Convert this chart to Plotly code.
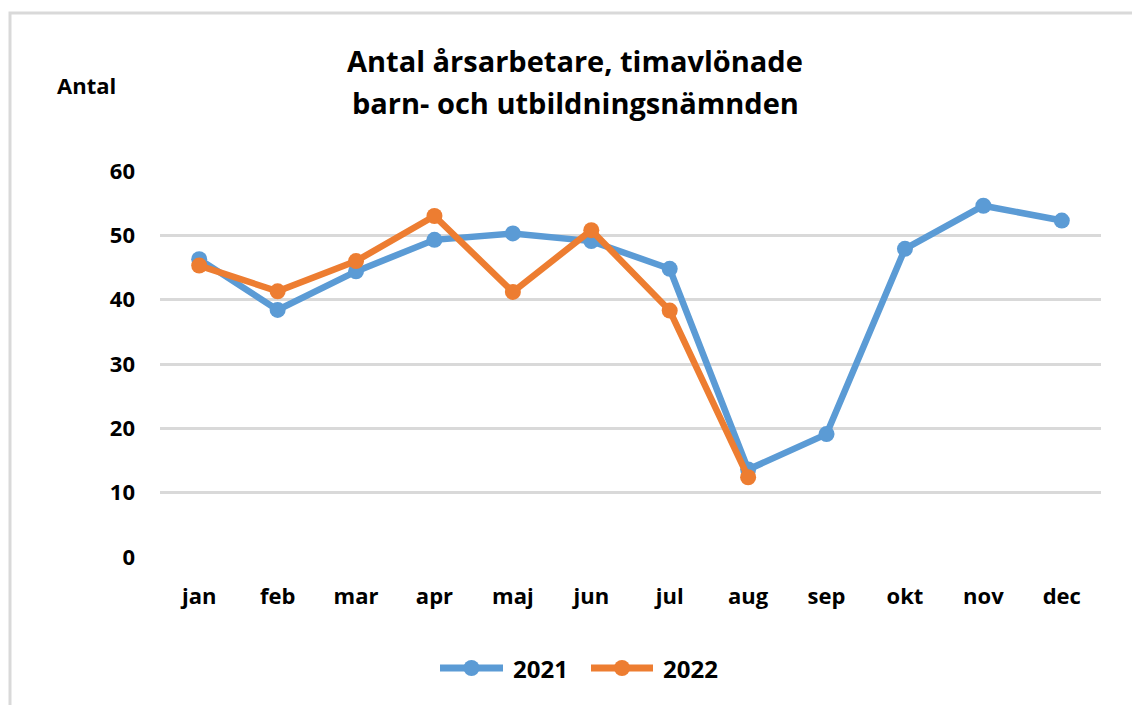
import plotly.graph_objects as go

months = ["jan", "feb", "mar", "apr", "maj", "jun", "jul", "aug", "sep", "okt", "nov", "dec"]
values_2021 = [46.3, 38.4, 44.4, 49.3, 50.3, 49.1, 44.8, 13.6, 19.1, 47.9, 54.6, 52.3]
values_2022 = [45.3, 41.3, 46.0, 53.0, 41.2, 50.8, 38.3, 12.4]
y_ticks = [0, 10, 20, 30, 40, 50, 60]
series_names = ["2021", "2022"]
colors = ["#5b9bd5", "#ed7d31"]

FONT = "'Open Sans', Lato, sans-serif"
OFF = 8  # body margin of the html page
W, H = 1140 - OFF, 705 - OFF
# plot area in reference pixel coordinates
X0, X1, Y0, Y1 = 160, 1101, 171, 557
L, R, T, B = X0 - OFF, W - (X1 - OFF), Y0 - OFF, H - (Y1 - OFF)
pw, ph = X1 - X0, Y1 - Y0

def px(x):
    return (x - X0) / pw

def py(y):
    return (Y1 - y) / ph

fig = go.Figure()
for name, vals, col in zip(series_names, [values_2021, values_2022], colors):
    fig.add_trace(go.Scatter(x=months[:len(vals)], y=vals, name=name, mode="lines+markers",
                             line=dict(color=col, width=6.5),
                             marker=dict(size=16, color=col), showlegend=False))

shapes = [dict(type="rect", xref="paper", yref="paper",
               x0=px(10), x1=px(1139), y0=py(712), y1=py(13),
               line=dict(color="#d9d9d9", width=3), fillcolor="rgba(0,0,0,0)", layer="below")]
annotations = [
    dict(text="Antal årsarbetare, timavlönade",
         xref="paper", yref="paper", x=px(575), y=py(60), xanchor="center", yanchor="middle",
         showarrow=False, font=dict(size=29, family=FONT, weight="bold")),
    dict(text="barn- och utbildningsnämnden",
         xref="paper", yref="paper", x=px(575), y=py(102), xanchor="center", yanchor="middle",
         showarrow=False, font=dict(size=29, family=FONT, weight="bold")),
    dict(text="Antal", xref="paper", yref="paper", x=px(86), y=py(85),
         xanchor="center", yanchor="middle", showarrow=False,
         font=dict(size=22, family=FONT, weight="bold")),
]

# custom legend (wide line symbols as in the reference)
legend_y = 668
for name, col, (lx0, lx1, tx) in zip(series_names, colors, [(440, 503, 511), (591, 653, 661)]):
    shapes.append(dict(type="line", xref="paper", yref="paper",
                       x0=px(lx0), x1=px(lx1), y0=py(legend_y), y1=py(legend_y),
                       line=dict(color=col, width=7)))
    cx = (lx0 + lx1) / 2
    shapes.append(dict(type="circle", xref="paper", yref="paper",
                       x0=px(cx - 8), x1=px(cx + 8), y0=py(legend_y + 8), y1=py(legend_y - 8),
                       line=dict(color=col, width=0), fillcolor=col))
    annotations.append(dict(text=name, xref="paper", yref="paper", x=px(tx), y=py(legend_y),
                            xanchor="left", yanchor="middle", showarrow=False,
                            font=dict(size=24, family=FONT, weight="bold")))

fig.update_layout(
    width=W, height=H,
    margin=dict(l=L, r=R, t=T, b=B),
    paper_bgcolor="white", plot_bgcolor="white",
    font=dict(family=FONT, color="black"),
    showlegend=False,
    xaxis=dict(type="category", categoryorder="array", categoryarray=months,
               range=[-0.5, 11.5], showgrid=False, zeroline=False, showline=False,
               ticks="", tickfont=dict(size=22, family=FONT, weight="bold"), ticklabelstandoff=24),
    yaxis=dict(range=[0, 60], tickvals=y_ticks, showgrid=True, gridcolor="#d9d9d9", gridwidth=2.5,
               zeroline=False, showline=False, ticks="",
               tickfont=dict(size=22, family=FONT, weight="bold"), ticklabelstandoff=24),
    shapes=shapes,
    annotations=annotations,
)

fig.write_html("out.html")
